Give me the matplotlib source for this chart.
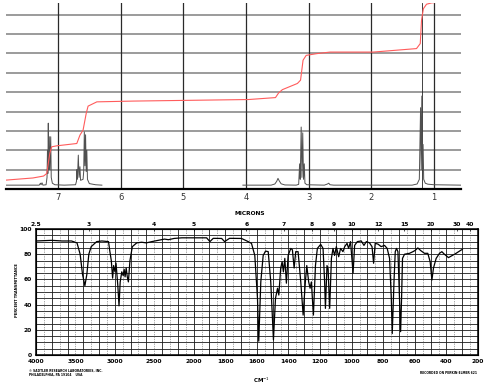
import matplotlib
matplotlib.use("Agg")
import matplotlib.pyplot as plt
import numpy as np

# ---- NMR spectrum (ppm, intensity in grid units) ----
nmr_ppm = [7.83, 7.30, 7.28, 7.27, 7.255, 7.24, 7.19, 7.175, 7.168, 7.162, 7.155,
           7.148, 7.139, 7.130, 7.116, 7.108, 7.09, 7.05, 6.90, 6.72, 6.705, 6.70,
           6.69, 6.676, 6.664, 6.65, 6.64, 6.60, 6.59, 6.58, 6.57, 6.56, 6.55, 6.54,
           6.53, 6.50, 6.40, 6.30, 6.29, 4.06, 4.05, 3.60, 3.54, 3.51, 3.49, 3.47,
           3.44, 3.38, 3.20, 3.16, 3.145, 3.135, 3.12, 3.108, 3.095, 3.083, 3.07,
           3.06, 3.03, 2.75, 2.70, 2.68, 2.66, 2.60, 1.35, 1.27, 1.235, 1.215,
           1.205, 1.195, 1.185, 1.175, 1.165, 1.14, 1.10, 1.00, 0.57]
nmr_int = [0.2, 0.2, 0.3, 0.22, 0.32, 0.2, 0.22, 0.6, 2.0, 0.8, 3.4,
           1.0, 2.7, 1.0, 2.7, 0.6, 0.3, 0.22, 0.2, 0.22, 0.4, 1.0,
           0.5, 1.75, 0.6, 1.15, 0.45, 0.5, 0.9, 2.95, 1.2, 2.8, 0.9, 2.0,
           0.5, 0.28, 0.22, 0.2, np.nan, np.nan, 0.2, 0.2, 0.26, 0.4, 0.55, 0.42,
           0.27, 0.21, 0.2, 0.24, 1.3, 0.5, 3.2, 0.6, 2.9, 0.5, 1.3,
           0.3, 0.22, 0.2, 0.26, 0.3, 0.22, 0.2, 0.2, 0.26, 0.5, 4.2,
           1.0, 4.8, 1.0, 2.3, 0.5, 0.3, 0.25, 0.22, 0.2]

# integral trace (red)
integral_ppm = [7.83, 7.40, 7.23, 7.18, 7.13, 7.10, 7.02, 6.70, 6.65, 6.60, 6.55,
                6.52, 6.38, 5.80, 3.96, 3.53, 3.48, 3.42, 3.18, 3.13, 3.09, 3.04,
                2.87, 2.66, 1.97, 1.28, 1.22, 1.20, 1.17, 1.12, 1.04, 1.00]
integral_val = [0.46, 0.57, 0.67, 0.8, 1.85, 2.18, 2.23, 2.35, 2.78, 3.04, 3.9,
                4.28, 4.5, 4.54, 4.62, 4.72, 4.96, 5.13, 5.45, 5.62, 6.65, 6.9,
                6.99, 7.07, 7.07, 7.25, 7.51, 8.71, 9.31, 9.54, 9.61, 9.62]

nmr_ticks = [7, 6, 5, 4, 3, 2, 1]

# ---- IR spectrum ----
ir_wavenumber = [4000, 3800, 3670, 3550, 3480, 3440, 3410, 3380, 3355, 3330, 3300,
                 3230, 3165, 3080, 3065, 3045, 3028, 3015, 2998, 2985, 2962, 2947,
                 2932, 2912, 2894, 2882, 2870, 2856, 2842, 2828, 2808, 2778, 2722,
                 2660, 2600, 2530, 2450, 2370, 2320, 2250, 2150, 2030, 1918, 1897,
                 1876, 1823, 1804, 1773, 1697, 1655, 1634, 1613, 1596, 1588, 1575,
                 1560, 1545, 1528, 1512, 1495, 1482, 1469, 1461, 1449, 1440, 1432,
                 1423, 1413, 1402, 1385, 1375, 1364, 1354, 1339, 1322, 1307, 1293,
                 1284, 1272, 1263, 1255, 1242, 1229, 1217, 1196, 1181, 1171, 1166,
                 1156, 1149, 1139, 1128, 1118, 1108, 1097, 1082, 1070, 1055, 1044,
                 1029, 1019, 1007, 991, 981, 964, 939, 922, 907, 887, 871, 861, 851,
                 833, 813, 792, 775, 760, 749, 743, 732, 724, 716, 707, 697, 690,
                 684, 678, 665, 634, 612, 598, 581, 564, 539, 518, 503, 492, 482,
                 465, 444, 429, 413, 387, 366, 339, 307, 299]
ir_transmittance = [90.5, 91, 90.5, 90.5, 89, 80, 64, 55, 64, 80, 86,
                    90, 90.5, 90, 83, 75, 61, 71, 66, 73, 55, 39,
                    58, 66, 63, 68, 62, 69, 62, 58, 75, 86, 89,
                    89.5, 89, 90, 91, 92, 91.5, 92.5, 93, 93, 93, 90,
                    92.6, 92.5, 90, 92.6, 92.5, 90, 88.6, 79, 45, 11, 58,
                    79, 82.5, 82, 58, 12, 45, 53, 47.6, 69, 74, 66,
                    76.7, 57, 79, 84.6, 83.5, 69, 82, 82, 58, 31.7, 58,
                    71, 58, 53, 58, 31.7, 71, 84.6, 87.8, 84.6, 58, 37,
                    71, 68, 37, 76.7, 84.6, 79, 86, 78, 84.6, 82, 86,
                    88.6, 84.6, 90, 65, 87, 90, 90.5, 87, 90, 89, 86, 72.8, 88.6,
                    88, 86, 87, 84.6, 76.7, 45, 17, 58, 82, 84.6, 82, 45, 18.5,
                    45, 76.7, 80, 80.7, 82, 83, 85, 83, 80.7, 80.7, 74, 59.5, 69,
                    76.7, 80.7, 82, 80, 77.3, 78.8, 80.7, 83.3, 83.8]

ir_ticks = [4000, 3500, 3000, 2500, 2000, 1800, 1600, 1400, 1200, 1000, 800, 600, 400, 200]
micron_ticks = [2.5, 3, 4, 5, 6, 7, 8, 9, 10, 12, 15, 20, 30, 40]
pct_ticks = [0, 20, 40, 60, 80, 100]


# chart paper: 4000-2000 at half the scale of 2000-200
def fwd(w):
    w = np.asarray(w, dtype=float)
    return np.where(w >= 2000, 285 + (w - 2000) / 2000 * 158, (w - 200) / 1800 * 285)


def inv(u):
    u = np.asarray(u, dtype=float)
    return np.where(u >= 285, 2000 + (u - 285) * 2000 / 158, 200 + u * 1800 / 285)


fig = plt.figure(figsize=(4.98, 3.89), dpi=100)

# ---------------- NMR ----------------
ax1 = fig.add_axes([0.012, 0.5141, 0.9137, 0.478])
ax1.set_xlim(7.83, 0.57)
ax1.set_ylim(0, 9.6)
for v in range(1, 10):
    ax1.axhline(v, color='#808080', lw=1.1, zorder=0)
for p in nmr_ticks:
    ax1.axvline(p, color='#2a2a2a', lw=0.9, zorder=0)
ax1.axvline(1.20, color='#222222', lw=0.6, zorder=0)
ax1.plot(nmr_ppm, nmr_int, color='#505050', lw=0.7)
ax1.plot(integral_ppm, integral_val, color='#ff5c5c', lw=0.8)
for s in ['top', 'left', 'right']:
    ax1.spines[s].set_visible(False)
ax1.spines['bottom'].set_linewidth(1.6)
ax1.set_xticks(nmr_ticks)
ax1.set_xticklabels([str(t) for t in nmr_ticks])
ax1.tick_params(axis='x', length=0, pad=3, labelsize=6, labelcolor='#333333')
ax1.set_yticks([])

# ---------------- IR ----------------
ax2 = fig.add_axes([0.0723, 0.0874, 0.8876, 0.3239])
ax2.set_xscale('function', functions=(fwd, inv))
ax2.set_xlim(4000, 200)
ax2.set_ylim(0, 100)
for v in range(5, 100, 5):
    ax2.axhline(v, color='#1a1a1a', lw=0.6, zorder=0)
solid = list(range(3800, 2000, -200)) + list(range(2000, 200, -100))
dotted = list(range(3900, 2000, -200)) + list(range(1950, 200, -100))
ax2.vlines(solid, 0, 100, color='#1a1a1a', lw=0.6, zorder=0)
ax2.vlines(dotted, 0, 100, color='#555555', lw=0.5, linestyles=(0, (1, 1.5)), zorder=0)
ax2.plot(ir_wavenumber, ir_transmittance, color='black', lw=0.9)
for s in ax2.spines.values():
    s.set_linewidth(1.1)
ax2.set_xticks(ir_ticks)
ax2.set_xticklabels([str(t) for t in ir_ticks], fontsize=4.3, fontweight='bold')
ax2.xaxis.set_minor_locator(matplotlib.ticker.NullLocator())
ax2.set_yticks(pct_ticks)
ax2.set_yticklabels([str(t) for t in pct_ticks], fontsize=4.3, fontweight='bold')
ax2.tick_params(axis='both', length=0, pad=3)

top = ax2.twiny()
top.set_xscale('function', functions=(fwd, inv))
top.set_xlim(4000, 200)
top.set_xticks([10000 / m for m in micron_ticks])
top.set_xticklabels([str(m) for m in micron_ticks], fontsize=4.3, fontweight='bold')
top.xaxis.set_minor_locator(matplotlib.ticker.NullLocator())
top.tick_params(axis='x', length=1.5, width=0.5, pad=1.5, direction='in')

fig.text(0.502, 0.45, 'MICRONS', fontsize=4.2, fontweight='bold', ha='center', va='center')
fig.text(0.034, 0.254, 'PERCENT TRANSMITTANCE', fontsize=2.6, fontweight='bold',
         rotation=90, ha='center', va='center')
fig.text(0.526, 0.023, 'CM$^{-1}$', fontsize=4, fontweight='bold', ha='center', va='center')
fig.text(0.058, 0.042, '\u00a9 SADTLER RESEARCH LABORATORIES, INC.\nPHILADELPHIA, PA 19104    USA',
         fontsize=2.2, fontweight='bold', ha='left', va='center', linespacing=1.2)
fig.text(0.958, 0.041, 'RECORDED ON PERKIN-ELMER 621', fontsize=2.2, fontweight='bold',
         ha='right', va='center')

fig.savefig('out.png', dpi=100)
